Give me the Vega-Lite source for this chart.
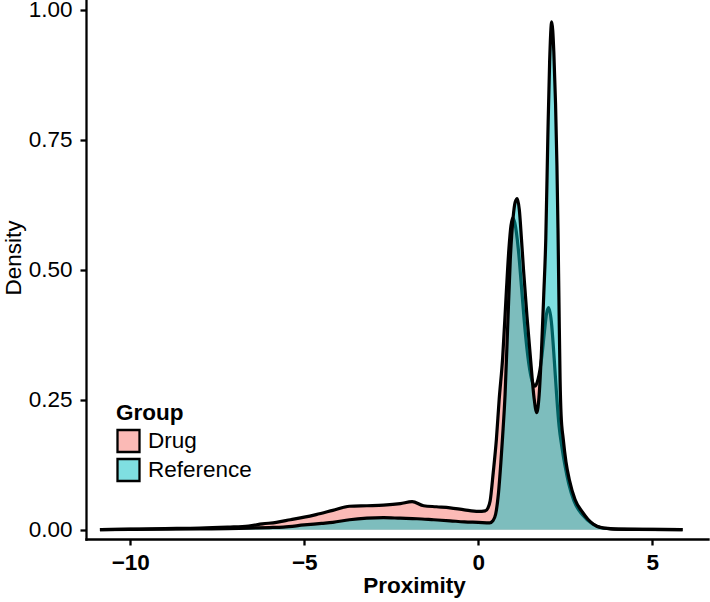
{
  "$schema": "https://vega.github.io/schema/vega-lite/v6.json",
  "width": 622,
  "height": 539,
  "padding": {"left": 86, "top": 0, "right": 2, "bottom": 63},
  "autosize": {"type": "none"},
  "background": "white",
  "config": {"view": {"stroke": null}, "font": "Liberation Sans"},
  "datasets": {
    "dens": [
      {"g": "Drug", "x": -10.87, "d": 0.0},
      {"g": "Drug", "x": -10, "d": 0.001},
      {"g": "Drug", "x": -9, "d": 0.002},
      {"g": "Drug", "x": -8, "d": 0.003},
      {"g": "Drug", "x": -7.2, "d": 0.005},
      {"g": "Drug", "x": -6.6, "d": 0.007},
      {"g": "Drug", "x": -6.2, "d": 0.011},
      {"g": "Drug", "x": -5.8, "d": 0.014},
      {"g": "Drug", "x": -5.4, "d": 0.019},
      {"g": "Drug", "x": -5.0, "d": 0.024},
      {"g": "Drug", "x": -4.66, "d": 0.029},
      {"g": "Drug", "x": -4.18, "d": 0.037},
      {"g": "Drug", "x": -3.7, "d": 0.045},
      {"g": "Drug", "x": -3.2, "d": 0.046},
      {"g": "Drug", "x": -2.72, "d": 0.047},
      {"g": "Drug", "x": -2.24, "d": 0.05},
      {"g": "Drug", "x": -1.9, "d": 0.054},
      {"g": "Drug", "x": -1.57, "d": 0.046},
      {"g": "Drug", "x": -1.2, "d": 0.044},
      {"g": "Drug", "x": -0.81, "d": 0.042},
      {"g": "Drug", "x": -0.4, "d": 0.038},
      {"g": "Drug", "x": 0, "d": 0.035},
      {"g": "Drug", "x": 0.2, "d": 0.036},
      {"g": "Drug", "x": 0.28, "d": 0.042},
      {"g": "Drug", "x": 0.34, "d": 0.055},
      {"g": "Drug", "x": 0.43, "d": 0.11},
      {"g": "Drug", "x": 0.52, "d": 0.173},
      {"g": "Drug", "x": 0.6, "d": 0.25},
      {"g": "Drug", "x": 0.7, "d": 0.33},
      {"g": "Drug", "x": 0.8, "d": 0.45},
      {"g": "Drug", "x": 0.88, "d": 0.54},
      {"g": "Drug", "x": 0.94, "d": 0.585},
      {"g": "Drug", "x": 0.99, "d": 0.6},
      {"g": "Drug", "x": 1.05, "d": 0.59},
      {"g": "Drug", "x": 1.15, "d": 0.54},
      {"g": "Drug", "x": 1.25, "d": 0.46},
      {"g": "Drug", "x": 1.35, "d": 0.38},
      {"g": "Drug", "x": 1.45, "d": 0.32},
      {"g": "Drug", "x": 1.55, "d": 0.285},
      {"g": "Drug", "x": 1.63, "d": 0.276},
      {"g": "Drug", "x": 1.72, "d": 0.29},
      {"g": "Drug", "x": 1.82, "d": 0.33},
      {"g": "Drug", "x": 1.9, "d": 0.38},
      {"g": "Drug", "x": 1.96, "d": 0.415},
      {"g": "Drug", "x": 2.02, "d": 0.427},
      {"g": "Drug", "x": 2.1, "d": 0.4},
      {"g": "Drug", "x": 2.18, "d": 0.33},
      {"g": "Drug", "x": 2.25, "d": 0.26},
      {"g": "Drug", "x": 2.32, "d": 0.2},
      {"g": "Drug", "x": 2.4, "d": 0.16},
      {"g": "Drug", "x": 2.5, "d": 0.12},
      {"g": "Drug", "x": 2.6, "d": 0.088},
      {"g": "Drug", "x": 2.75, "d": 0.055},
      {"g": "Drug", "x": 3.0, "d": 0.028},
      {"g": "Drug", "x": 3.3, "d": 0.01},
      {"g": "Drug", "x": 3.6, "d": 0.003},
      {"g": "Drug", "x": 4.2, "d": 0.001},
      {"g": "Drug", "x": 5.0, "d": 0.0005},
      {"g": "Drug", "x": 5.87, "d": 0.0},
      {"g": "Reference", "x": -10.87, "d": 0.0},
      {"g": "Reference", "x": -10, "d": 0.0005},
      {"g": "Reference", "x": -9, "d": 0.001},
      {"g": "Reference", "x": -8, "d": 0.0015},
      {"g": "Reference", "x": -7.2, "d": 0.002},
      {"g": "Reference", "x": -6.6, "d": 0.003},
      {"g": "Reference", "x": -6, "d": 0.004},
      {"g": "Reference", "x": -5.6, "d": 0.005},
      {"g": "Reference", "x": -5.0, "d": 0.009},
      {"g": "Reference", "x": -4.5, "d": 0.012},
      {"g": "Reference", "x": -4.18, "d": 0.014},
      {"g": "Reference", "x": -3.7, "d": 0.019},
      {"g": "Reference", "x": -3.2, "d": 0.022},
      {"g": "Reference", "x": -2.72, "d": 0.023},
      {"g": "Reference", "x": -2.24, "d": 0.022},
      {"g": "Reference", "x": -1.76, "d": 0.021},
      {"g": "Reference", "x": -1.28, "d": 0.019},
      {"g": "Reference", "x": -0.81, "d": 0.017},
      {"g": "Reference", "x": -0.4, "d": 0.015},
      {"g": "Reference", "x": 0, "d": 0.014},
      {"g": "Reference", "x": 0.33, "d": 0.013},
      {"g": "Reference", "x": 0.42, "d": 0.017},
      {"g": "Reference", "x": 0.5, "d": 0.03},
      {"g": "Reference", "x": 0.58, "d": 0.07},
      {"g": "Reference", "x": 0.65, "d": 0.13},
      {"g": "Reference", "x": 0.7, "d": 0.18},
      {"g": "Reference", "x": 0.77, "d": 0.26},
      {"g": "Reference", "x": 0.85, "d": 0.4},
      {"g": "Reference", "x": 0.92, "d": 0.52},
      {"g": "Reference", "x": 1.0, "d": 0.6},
      {"g": "Reference", "x": 1.06, "d": 0.63},
      {"g": "Reference", "x": 1.12, "d": 0.637},
      {"g": "Reference", "x": 1.18, "d": 0.615},
      {"g": "Reference", "x": 1.24, "d": 0.56},
      {"g": "Reference", "x": 1.3, "d": 0.5},
      {"g": "Reference", "x": 1.4, "d": 0.41},
      {"g": "Reference", "x": 1.5, "d": 0.33},
      {"g": "Reference", "x": 1.6, "d": 0.255},
      {"g": "Reference", "x": 1.68, "d": 0.225},
      {"g": "Reference", "x": 1.75, "d": 0.26},
      {"g": "Reference", "x": 1.82, "d": 0.35},
      {"g": "Reference", "x": 1.88, "d": 0.45},
      {"g": "Reference", "x": 1.94, "d": 0.56},
      {"g": "Reference", "x": 2.0, "d": 0.76},
      {"g": "Reference", "x": 2.05, "d": 0.9},
      {"g": "Reference", "x": 2.11, "d": 0.977},
      {"g": "Reference", "x": 2.17, "d": 0.92},
      {"g": "Reference", "x": 2.22, "d": 0.82},
      {"g": "Reference", "x": 2.26, "d": 0.7},
      {"g": "Reference", "x": 2.29, "d": 0.58},
      {"g": "Reference", "x": 2.32, "d": 0.43},
      {"g": "Reference", "x": 2.35, "d": 0.29},
      {"g": "Reference", "x": 2.38, "d": 0.22},
      {"g": "Reference", "x": 2.44, "d": 0.175},
      {"g": "Reference", "x": 2.52, "d": 0.13},
      {"g": "Reference", "x": 2.62, "d": 0.095},
      {"g": "Reference", "x": 2.78, "d": 0.058},
      {"g": "Reference", "x": 3.0, "d": 0.033},
      {"g": "Reference", "x": 3.15, "d": 0.02},
      {"g": "Reference", "x": 3.3, "d": 0.011},
      {"g": "Reference", "x": 3.5, "d": 0.004},
      {"g": "Reference", "x": 3.8, "d": 0.0015},
      {"g": "Reference", "x": 4.5, "d": 0.0005},
      {"g": "Reference", "x": 5.87, "d": 0.0}
    ]
  },
  "data": {"name": "dens"},
  "encoding": {
    "x": {
      "field": "x", "type": "quantitative",
      "scale": {"domain": [-11.27, 6.6], "nice": false, "zero": false},
      "axis": {
        "title": "Proximity", "values": [-10, -5, 0, 5], "format": "d", "grid": false,
        "domainColor": "black", "domainWidth": 2.3, "domainCap": "square",
        "tickColor": "black", "tickWidth": 2.3, "tickSize": 6,
        "labelFontSize": 22.5, "labelFontWeight": "bold", "labelColor": "black", "labelPadding": 6,
        "titleFontSize": 22.5, "titleFontWeight": "bold", "titleColor": "black",
        "titleX": 328, "titleY": 35, "titleBaseline": "top"
      }
    },
    "y": {
      "field": "d", "type": "quantitative",
      "scale": {"domain": [-0.018, 1.019], "nice": false, "zero": false},
      "axis": {
        "title": "Density", "values": [0, 0.25, 0.5, 0.75, 1], "format": ".2f", "grid": false,
        "domainColor": "black", "domainWidth": 2.3, "domainCap": "square",
        "tickColor": "black", "tickWidth": 2.3, "tickSize": 6,
        "labelFontSize": 22.5, "labelColor": "black", "labelPadding": 8,
        "titleFontSize": 22.5, "titleFontWeight": "normal", "titleColor": "black",
        "titleX": -61, "titleY": 257.5
      }
    }
  },
  "layer": [
    {
      "transform": [{"filter": "datum.g === 'Drug'"}],
      "mark": {"type": "area", "interpolate": "monotone", "fillOpacity": 0.5},
      "encoding": {
        "y2": {"datum": 0},
        "fill": {
          "field": "g", "type": "nominal",
          "scale": {"domain": ["Drug", "Reference"], "range": ["#F8766D", "#00BFC4"]},
          "legend": {
            "orient": "none", "legendX": 30, "legendY": 402, "padding": 0,
            "title": "Group", "titleFontSize": 22.5, "titleFontWeight": "bold", "titleColor": "black", "titlePadding": 4,
            "labelFontSize": 22.5, "labelColor": "black", "labelOffset": 7,
            "symbolType": "square", "symbolSize": 484, "symbolStrokeColor": "black", "symbolStrokeWidth": 2.3,
            "rowPadding": -8,
            "encode": {"symbols": {"update": {"fillOpacity": {"value": 0.5}, "stroke": {"value": "black"}, "strokeWidth": {"value": 2.3}, "opacity": {"value": 1}}}}
          }
        }
      }
    },
    {
      "transform": [{"filter": "datum.g === 'Drug'"}],
      "mark": {"type": "line", "interpolate": "monotone", "color": "black", "strokeWidth": 3.2, "strokeJoin": "round"},
      "encoding": {}
    },
    {
      "transform": [{"filter": "datum.g === 'Reference'"}],
      "mark": {"type": "area", "interpolate": "monotone", "fillOpacity": 0.5},
      "encoding": {
        "y2": {"datum": 0},
        "fill": {"field": "g", "type": "nominal"}
      }
    },
    {
      "transform": [{"filter": "datum.g === 'Reference'"}],
      "mark": {"type": "line", "interpolate": "monotone", "color": "black", "strokeWidth": 3.2, "strokeJoin": "round"},
      "encoding": {}
    }
  ]
}
